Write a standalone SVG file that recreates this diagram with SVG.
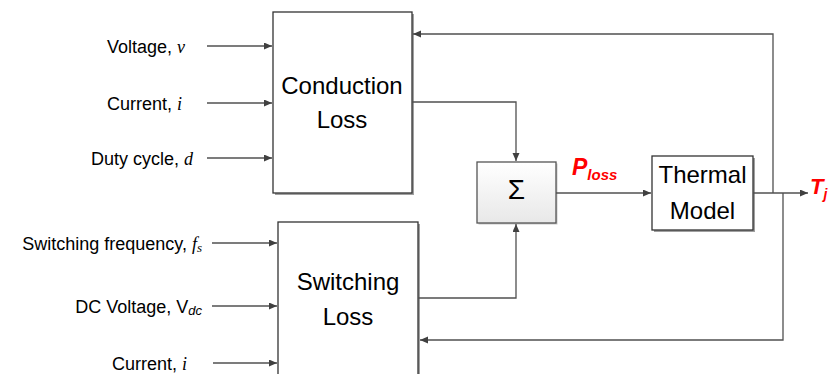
<svg xmlns="http://www.w3.org/2000/svg" width="829" height="374" viewBox="0 0 829 374">
<defs>
<linearGradient id="g" x1="0" y1="0" x2="0" y2="1">
<stop offset="0" stop-color="#ffffff"/>
<stop offset="1" stop-color="#e8e8e8"/>
</linearGradient>
<marker id="arr" markerUnits="userSpaceOnUse" markerWidth="9" markerHeight="8" refX="8" refY="3.5" orient="auto">
<path d="M0,0 L8,3.5 L0,7 z" fill="#404040"/>
</marker>
</defs>
<style>
.box{fill:#fff;stroke:#333;stroke-width:1.3}
.sh{fill:#a0a0a0}
.c{fill:none;stroke:#505050;stroke-width:1.3;marker-end:url(#arr)}
.lbl{font-family:"Liberation Sans",Arial,sans-serif;font-size:18px;fill:#000}
.var{font-family:"Liberation Serif","Times New Roman",serif;font-style:italic}
.bt{font-family:"Liberation Sans",Arial,sans-serif;font-size:24px;fill:#000;text-anchor:middle}
.red{font-family:"Liberation Sans",Arial,sans-serif;font-weight:bold;font-style:italic;fill:#ff0000}
</style>
<rect width="829" height="374" fill="#fff"/>

<g id="conduction">
<rect class="sh" x="275" y="14" width="139" height="181"/>
<rect class="box" x="273" y="12" width="139" height="181"/>
<text class="bt" x="342" y="94">Conduction</text>
<text class="bt" x="342" y="128">Loss</text>
</g>

<g id="switching">
<rect class="sh" x="280" y="224" width="140" height="170"/>
<rect class="box" x="278" y="222" width="140" height="170"/>
<text class="bt" x="348" y="290">Switching</text>
<text class="bt" x="348" y="325">Loss</text>
</g>

<g id="sum">
<rect x="478.5" y="163.5" width="79" height="61" fill="#c8c8c8"/>
<rect x="477" y="162" width="79" height="61" fill="url(#g)" stroke="#555" stroke-width="1.3"/>
<text x="516.5" y="199" font-family="Liberation Sans,Arial,sans-serif" font-size="28" text-anchor="middle">Σ</text>
</g>

<g id="thermal">
<rect class="sh" x="654" y="158" width="101" height="74"/>
<rect class="box" x="652" y="156" width="101" height="74"/>
<text class="bt" x="702.5" y="183">Thermal</text>
<text class="bt" x="702.5" y="219">Model</text>
</g>

<g id="labels">
<text class="lbl" x="185" y="53" text-anchor="end">Voltage, <tspan class="var">v</tspan></text>
<text class="lbl" x="182" y="110" text-anchor="end">Current, <tspan class="var">i</tspan></text>
<text class="lbl" x="193" y="165" text-anchor="end">Duty cycle, <tspan class="var">d</tspan></text>
<text class="lbl" x="202" y="250" text-anchor="end">Switching frequency, <tspan class="var">f</tspan><tspan class="var" font-size="13" dy="2">s</tspan></text>
<text class="lbl" x="202" y="313" text-anchor="end">DC Voltage, V<tspan font-style="italic" font-size="13" dy="2">dc</tspan></text>
<text class="lbl" x="187" y="370" text-anchor="end">Current, <tspan class="var">i</tspan></text>
<text class="red" x="572" y="175" font-size="23">P<tspan font-size="15" dy="5">loss</tspan></text>
<text class="red" x="810" y="194" font-size="22">T<tspan font-size="14" dy="5">j</tspan></text>
</g>

<g id="connectors">
<path class="c" d="M207,46 H272"/>
<path class="c" d="M207,103 H272"/>
<path class="c" d="M207,158 H272"/>
<path class="c" d="M212,243 H277"/>
<path class="c" d="M212,306 H277"/>
<path class="c" d="M213,363 H277"/>
<path class="c" d="M412,102 H516 V161"/>
<path class="c" d="M418,298 H516 V224"/>
<path class="c" d="M556,193 H651"/>
<path class="c" d="M753,193 H808"/>
<path class="c" d="M773,193 V34 H413"/>
<path class="c" d="M783,193 V340 H420"/>
</g>
</svg>
